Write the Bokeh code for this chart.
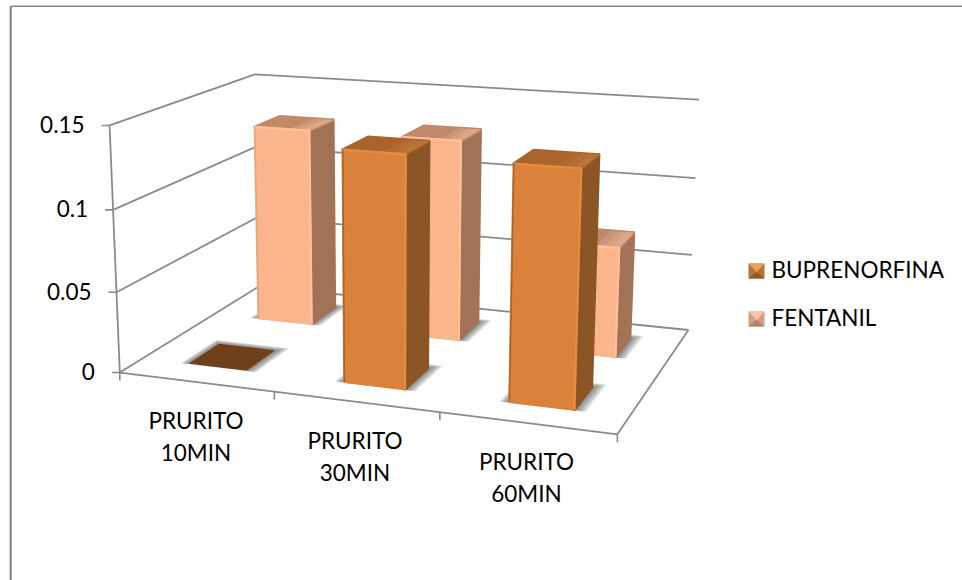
import numpy as np
from bokeh.plotting import figure
from bokeh.models import Range1d
from bokeh.core.properties import value
from bokeh.embed import file_html
from bokeh.resources import INLINE

# Chart data
categories = [["PRURITO", "10MIN"], ["PRURITO", "30MIN"], ["PRURITO", "60MIN"]]
buprenorfina = [0.0, 0.139, 0.138]
fentanil = [0.128, 0.128, 0.069]
y_ticks = [0, 0.05, 0.1, 0.15]
y_labels = ["0", "0.05", "0.1", "0.15"]
Y_MAX = 0.15

# Palette
GRID = "#8A8A8A"
BUP = dict(front="#DA823B", side="#8B5526", top="#A8642B", hi="#E58C42", lo="#A9642C", flat="#6F3F1A",
           corner="#C0773A", sw_top="#E9A15F", sw_mid="#B87238", sw_low="#8F5A2A")
FEN = dict(front="#FAB58D", side="#A27256", top="#C08A6A", hi="#FFC09A", lo="#E2A782", flat="#C08A6A",
           corner="#E3AE8E", sw_top="#F7C6A8", sw_mid="#D29E80", sw_low="#B48669")

FONT = value("Lato")
FONT_SIZE = "22.5px"

# Camera: world (u along categories, v in depth, h in value units) to screen pixels
camera_world = np.array([
    (0, 0, 0), (1, 0, 0), (1, 1, 0), (0, 1, 0),
    (0, 0, Y_MAX), (0, 1, Y_MAX), (1, 1, Y_MAX),
    (0, 0, 0.05), (0, 0, 0.1), (0, 1, 0.05), (0, 1, 0.1), (1, 1, 0.05), (1, 1, 0.1),
    (1/3, 0, 0), (2/3, 0, 0),
], dtype=float)
camera_screen = np.array([
    (120, 371), (617, 433), (688, 328), (258, 286),
    (108, 125), (255, 73), (698, 100),
    (117, 291), (113, 209), (257, 218), (256, 146), (692, 254), (695, 178),
    (273, 392), (439, 414),
], dtype=float)


def fit_camera(world, screen):
    rows = []
    w = world * np.array([1, 1, 1 / Y_MAX])
    for (a, b, c), (x, y) in zip(w, screen):
        rows.append([a, b, c, 1, 0, 0, 0, 0, -x * a, -x * b, -x * c, -x])
        rows.append([0, 0, 0, 0, a, b, c, 1, -y * a, -y * b, -y * c, -y])
    return np.linalg.svd(np.array(rows))[2][-1].reshape(3, 4)


P = fit_camera(camera_world, camera_screen)


def proj(u, v, h):
    q = P @ np.array([u, v, h / Y_MAX, 1.0])
    return q[0] / q[2], q[1] / q[2]


def poly(pts):
    xy = [proj(*pt) for pt in pts]
    return [a for a, _ in xy], [b for _, b in xy]


p = figure(width=962, height=580, output_backend="svg", toolbar_location=None,
           x_range=Range1d(0, 962), y_range=Range1d(580, 0), min_border=0)
p.axis.visible = False
p.grid.visible = False
p.outline_line_color = None
p.background_fill_color = "white"
p.border_fill_color = "white"

# Chart frame (only the top and left edges fall inside the page)
p.line([10.2, 10.2], [580, 5.8], line_color="#868686", line_width=2.2)
p.line([10.2, 962], [5.8, 5.8], line_color="#868686", line_width=1.6)


def seg(a, b):
    xa, ya = proj(*a)
    xb, yb = proj(*b)
    p.line([xa, xb], [ya, yb], line_color=GRID, line_width=1.8)


# Walls and floor
for t in y_ticks:
    seg((0, 0, t), (0, 1, t))
    seg((0, 1, t), (1, 1, t))
seg((0, 0, 0), (0, 0, Y_MAX))
seg((0, 0, 0), (1, 0, 0))
seg((1, 0, 0), (1, 1, 0))

# Axis ticks and value labels
for t, lab in zip(y_ticks, y_labels):
    x, y = proj(0, 0, t)
    p.line([x - 8, x], [y, y], line_color=GRID, line_width=1.6)
    p.text([x - 25], [y - 1], text=[lab], text_font=FONT, text_font_size=FONT_SIZE,
           text_align="right", text_baseline="middle", text_color="#000000")
for i in range(4):
    x, y = proj(i / 3, 0, 0)
    p.line([x, x], [y, y + 8], line_color=GRID, line_width=1.6)

BAR_W = 0.125
BAR_D = 0.2


def bar(i, v0, val, col):
    u0 = (i + 0.5) / 3 - BAR_W / 2
    u1, v1 = u0 + BAR_W, v0 + BAR_D
    # Soft contact shadow on the floor, built up from growing translucent outlines
    for grow in (0.032, 0.026, 0.020, 0.014, 0.008):
        gx = grow * 0.55
        xs, ys = poly([(u0 - gx, v0 - grow * 0.3, 0), (u1 + gx * 1.3, v0 - grow * 0.3, 0),
                       (u1 + gx * 1.3, v1 + grow * 1.2, 0), (u0 - gx, v1 + grow * 1.2, 0)])
        p.patch(xs, ys, fill_color="#4A4A4A", fill_alpha=0.17, line_color=None)
    if val <= 0:
        xs, ys = poly([(u0, v0, 0), (u1, v0, 0), (u1, v1, 0), (u0, v1, 0)])
        p.patch(xs, ys, fill_color=col["flat"], line_color=col["flat"], line_width=1)
        return
    faces = [
        ([(u1, v0, 0), (u1, v1, 0), (u1, v1, val), (u1, v0, val)], col["side"]),
        ([(u0, v0, val), (u1, v0, val), (u1, v1, val), (u0, v1, val)], col["top"]),
    ]
    for pts, c in faces:
        xs, ys = poly(pts)
        p.patch(xs, ys, fill_color=c, line_color=c, line_width=3, line_join="round")
    # The rounded top corner catches the light towards the right
    for f, a in ((0.62, 0.35), (0.76, 0.45), (0.88, 0.55)):
        xs, ys = poly([(u0 + f * BAR_W, v0, val), (u1, v0, val), (u1, v1, val), (u0 + f * BAR_W, v1, val)])
        p.patch(xs, ys, fill_color=col["corner"], fill_alpha=a, line_color=None)
    xs, ys = poly([(u0, v0, 0), (u1, v0, 0), (u1, v0, val), (u0, v0, val)])
    p.patch(xs, ys, fill_color=col["front"], line_color=col["front"], line_width=2.5, line_join="round")
    # Bevel highlights along the front face edges
    for a, b, c, w in [((u0, v0, val), (u1, v0, val), col["hi"], 2.2),
                       ((u1, v0, val), (u1, v0, 0), col["hi"], 2.0),
                       ((u0, v0, val), (u0, v0, 0), col["lo"], 1.5)]:
        xa, ya = proj(*a)
        xb, yb = proj(*b)
        p.line([xa, xb], [ya, yb], line_color=c, line_width=w)


# Rear series first, then the front one, so nearer columns cover farther ones
for i, val in enumerate(fentanil):
    bar(i, 0.65, val, FEN)
for i, val in enumerate(buprenorfina):
    bar(i, 0.15, val, BUP)

# Category labels, two lines each
cat_x = [195.5, 354.5, 526]
cat_y = [420, 440, 461]
for (l1, l2), x, y in zip(categories, cat_x, cat_y):
    for k, s in enumerate((l1, l2)):
        p.text([x], [y + k * 32], text=[s], text_font=FONT, text_font_size=FONT_SIZE,
               text_align="center", text_baseline="middle", text_color="#000000")

# Legend with bevelled swatches
legend_entries = [("BUPRENORFINA", 270.5, 269, BUP), ("FENTANIL", 318.5, 316.5, FEN)]
for name, cy, ty, col in legend_entries:
    x0, x1, y0, y1 = 748, 764, cy - 7.5, cy + 7.5
    xm, ym = (x0 + x1) / 2, cy + 1
    p.patch([x0, x1, x1, x0], [y0, y0, y1, y1], fill_color=col["sw_mid"], line_color=None)
    p.patch([x0, x1, xm], [y0, y0, ym], fill_color=col["sw_top"], line_color=None)
    p.patch([x0, x1, xm], [y1, y1, ym], fill_color=col["sw_low"], line_color=None)
    p.text([771], [ty], text=[name], text_font=FONT, text_font_size=FONT_SIZE,
           text_align="left", text_baseline="middle", text_color="#000000")

open("out.html", "w").write(file_html(p, INLINE))
